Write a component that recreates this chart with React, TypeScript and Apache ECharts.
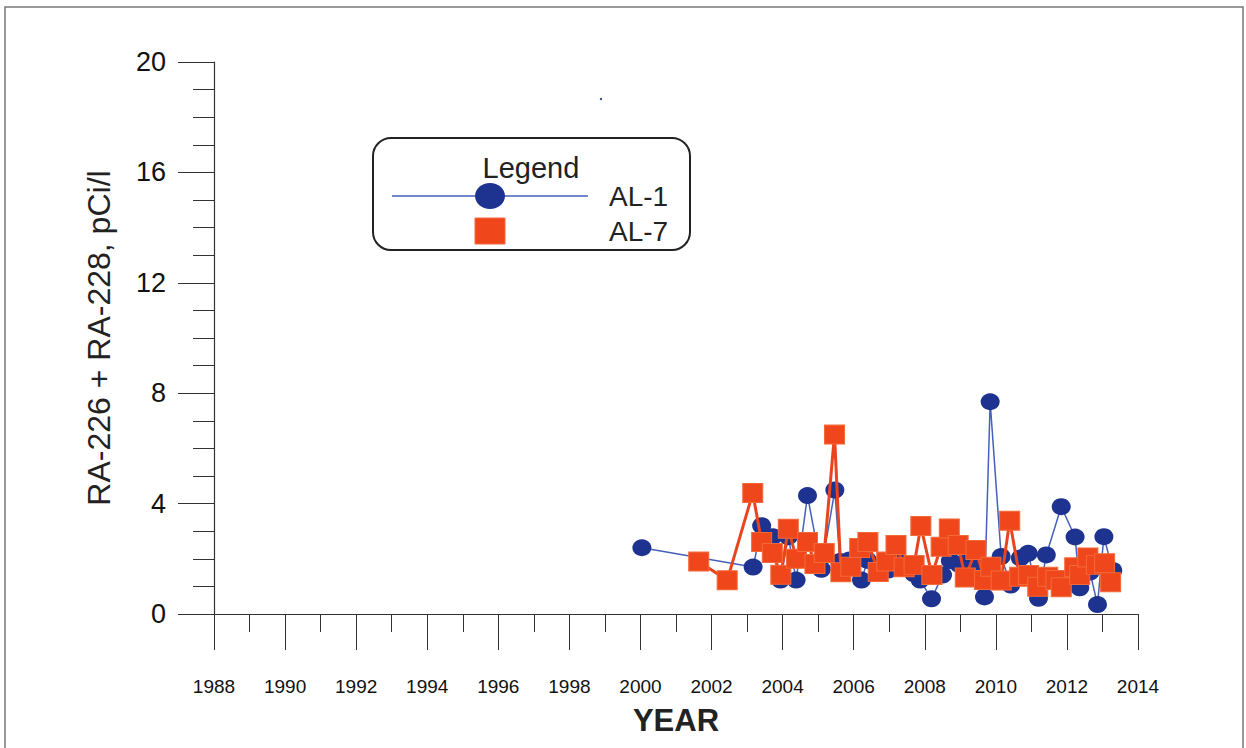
import React, { useEffect, useRef } from "react";
import * as echarts from "echarts";

const al1Years = [2000.04, 2003.17, 2003.41, 2003.72, 2003.94, 2004.16, 2004.38, 2004.70, 2005.09, 2005.47, 2005.61, 2005.89, 2006.22, 2006.39, 2006.68, 2006.97, 2007.20, 2007.70, 2007.87, 2008.19, 2008.50, 2008.72, 2008.96, 2009.16, 2009.45, 2009.68, 2009.84, 2010.15, 2010.42, 2010.69, 2010.91, 2011.20, 2011.42, 2011.84, 2012.23, 2012.36, 2012.65, 2012.86, 2013.04, 2013.29];
const al1Values = [2.40, 1.70, 3.20, 2.80, 1.23, 2.80, 1.23, 4.29, 1.62, 4.49, 1.90, 1.96, 1.23, 1.94, 1.68, 1.59, 2.08, 1.45, 1.23, 0.55, 1.41, 1.93, 1.80, 1.90, 1.85, 0.62, 7.69, 2.08, 1.05, 2.03, 2.20, 0.57, 2.14, 3.89, 2.79, 0.95, 1.52, 0.34, 2.80, 1.58];

const al7Years = [2001.64, 2002.44, 2003.16, 2003.41, 2003.71, 2003.95, 2004.16, 2004.39, 2004.70, 2004.91, 2005.17, 2005.46, 2005.64, 2005.92, 2006.17, 2006.40, 2006.69, 2006.93, 2007.19, 2007.42, 2007.70, 2007.89, 2008.20, 2008.46, 2008.69, 2008.94, 2009.14, 2009.44, 2009.68, 2009.86, 2010.15, 2010.39, 2010.67, 2010.92, 2011.18, 2011.46, 2011.69, 2011.84, 2012.22, 2012.36, 2012.59, 2012.83, 2013.06, 2013.23];
const al7Values = [1.90, 1.22, 4.38, 2.61, 2.21, 1.42, 3.09, 2.00, 2.61, 1.81, 2.21, 6.50, 1.51, 1.71, 2.39, 2.61, 1.52, 1.90, 2.50, 1.69, 1.78, 3.19, 1.41, 2.44, 3.10, 2.50, 1.32, 2.32, 1.23, 1.71, 1.21, 3.38, 1.35, 1.41, 0.99, 1.35, 1.23, 0.97, 1.69, 1.41, 2.05, 1.78, 1.84, 1.15];

const seriesNames = ["AL-1", "AL-7"];
const xTitle = "YEAR";
const yTitle = "RA-226 + RA-228, pCi/l";

const BLUE = "#1e3290";
const BLUE_LINE = "#4560b8";
const ORANGE = "#f0461c";
const ORANGE_LINE = "#e8441e";
const FONT = "Liberation Sans, Arial, sans-serif";

export default function App() {
  const ref = useRef<HTMLDivElement>(null);
  useEffect(() => {
    if (!ref.current) return;
    const chart = echarts.init(ref.current, undefined, { renderer: "svg" });
    const al1 = al1Years.map((y, i) => [y, al1Values[i]]);
    const al7 = al7Years.map((y, i) => [y, al7Values[i]]);
    chart.setOption({
      animation: false,
      backgroundColor: "#ffffff",
      grid: { left: 214, right: 108, top: 62, bottom: 134, containLabel: false },
      xAxis: {
        type: "value",
        min: 1988,
        max: 2014,
        interval: 2,
        name: xTitle,
        nameLocation: "middle",
        nameGap: 91,
        nameTextStyle: { fontFamily: FONT, fontSize: 31, fontWeight: "bold", color: "#222" },
        axisLine: { show: true, onZero: false, lineStyle: { color: "#333", width: 1.2 } },
        axisTick: { show: true, length: 36, lineStyle: { color: "#333", width: 1 } },
        minorTick: { show: true, splitNumber: 2, length: 18, lineStyle: { color: "#333", width: 1 } },
        axisLabel: { fontFamily: FONT, fontSize: 19, color: "#111", margin: 63, formatter: (v: number) => String(v) },
        splitLine: { show: false },
      },
      yAxis: {
        type: "value",
        min: 0,
        max: 20,
        interval: 4,
        name: yTitle,
        nameLocation: "middle",
        nameGap: 99,
        nameTextStyle: { fontFamily: FONT, fontSize: 32, color: "#222" },
        axisLine: { show: true, lineStyle: { color: "#333", width: 1.2 } },
        axisTick: { show: true, length: 36, lineStyle: { color: "#333", width: 1 } },
        minorTick: { show: true, splitNumber: 4, length: 21, lineStyle: { color: "#333", width: 1 } },
        axisLabel: { fontFamily: FONT, fontSize: 27, color: "#111", margin: 48 },
        splitLine: { show: false },
      },
      series: [
        {
          name: seriesNames[0],
          type: "line",
          data: al1,
          symbol: "circle",
          symbolSize: [19, 17],
          lineStyle: { color: BLUE_LINE, width: 1.5 },
          itemStyle: { color: BLUE },
          z: 2,
        },
        {
          name: seriesNames[1],
          type: "line",
          data: al7,
          symbol: "rect",
          symbolSize: [20, 19],
          lineStyle: { color: ORANGE_LINE, width: 3 },
          itemStyle: { color: ORANGE, borderColor: "#f26a3a", borderWidth: 1 },
          z: 3,
        },
      ],
      graphic: [
        {
          type: "rect",
          shape: { x: 5, y: 7, width: 1238, height: 760 },
          style: { fill: "none", stroke: "#777", lineWidth: 1.5 },
          silent: true,
        },
        {
          type: "rect",
          shape: { x: 373, y: 138, width: 317, height: 112, r: 18 },
          style: { fill: "#ffffff", stroke: "#222", lineWidth: 2 },
          z: 10,
        },
        {
          type: "text",
          x: 531,
          y: 168,
          style: { text: "Legend", fontFamily: FONT, fontSize: 29, fill: "#222", align: "center", verticalAlign: "middle" },
          z: 11,
        },
        {
          type: "line",
          shape: { x1: 392, y1: 196, x2: 588, y2: 196 },
          style: { stroke: BLUE_LINE, lineWidth: 1.5 },
          z: 11,
        },
        {
          type: "ellipse",
          shape: { cx: 490, cy: 196, rx: 15, ry: 13 },
          style: { fill: BLUE },
          z: 12,
        },
        {
          type: "rect",
          shape: { x: 475, y: 218, width: 30, height: 26 },
          style: { fill: ORANGE, stroke: "#f26a3a", lineWidth: 1 },
          z: 12,
        },
        {
          type: "text",
          x: 609,
          y: 196,
          style: { text: seriesNames[0], fontFamily: FONT, fontSize: 28, fill: "#222", align: "left", verticalAlign: "middle" },
          z: 11,
        },
        {
          type: "text",
          x: 609,
          y: 231,
          style: { text: seriesNames[1], fontFamily: FONT, fontSize: 28, fill: "#222", align: "left", verticalAlign: "middle" },
          z: 11,
        },
        {
          type: "circle",
          shape: { cx: 601, cy: 99, r: 1.2 },
          style: { fill: "#33488f" },
        },
      ],
    });
    return () => chart.dispose();
  }, []);
  return <div ref={ref} style={{ position: "absolute", left: 0, top: 0, width: 1246, height: 748 }} />;
}
